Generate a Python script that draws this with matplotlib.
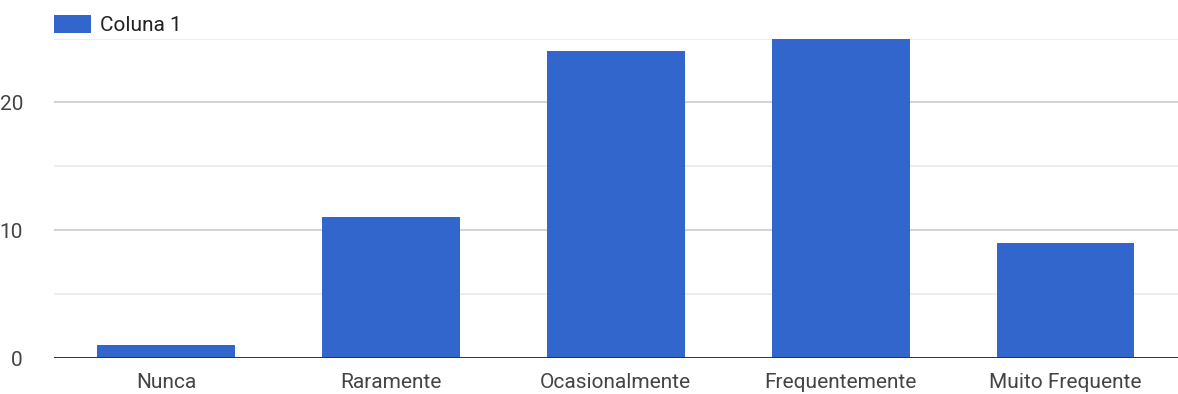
import matplotlib.pyplot as plt

categorias = ['Nunca', 'Raramente', 'Ocasionalmente', 'Frequentemente', 'Muito Frequente']
respostas = [1, 11, 24, 25, 9]

plt.rcParams['font.family'] = ['Roboto', 'DejaVu Sans']

fig = plt.figure(figsize=(11.78, 3.94), dpi=100)
ax = fig.add_axes([53.5 / 1178, 1 - 358 / 394, 1 - 53.5 / 1178, (358 - 38.5) / 394])

x = range(len(categorias))
ax.bar(x, respostas, width=0.613, color='#3366cc', label='Coluna 1', zorder=3)

ax.set_xlim(-0.5, len(categorias) - 0.5)
ax.set_ylim(0, 25)

# linhas de grade: principais a cada 10, secundárias a cada 5
for v in [5, 15, 25]:
    ax.axhline(v, color='#ebebeb', lw=1.2, zorder=1)
for v in [10, 20]:
    ax.axhline(v, color='#cccccc', lw=1.2, zorder=1)
ax.axhline(0, color='#333333', lw=1.4, zorder=4)

for s in ax.spines.values():
    s.set_visible(False)

ax.set_yticks([0, 10, 20])
ax.set_xticks(list(x))
ax.set_xticklabels(categorias)
ax.tick_params(axis='both', length=0, labelsize=15, colors='#444444')
ax.tick_params(axis='y', pad=22)
ax.tick_params(axis='x', pad=11)
for lbl in ax.get_yticklabels():
    lbl.set_horizontalalignment('right')

leg = ax.legend(loc='lower left', bbox_to_anchor=(0.0, 1.01), frameon=False,
                fontsize=15, handlelength=1.8, handleheight=1.0, handletextpad=0.45,
                borderaxespad=0, borderpad=0)
for t in leg.get_texts():
    t.set_color('#222222')

fig.savefig('out.png', dpi=100)
